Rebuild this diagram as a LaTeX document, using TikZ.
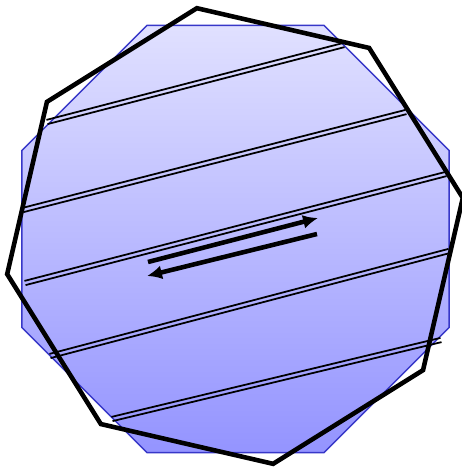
\documentclass[tikz,border=0pt]{standalone}
\usetikzlibrary{arrows.meta}
\definecolor{rim}{RGB}{55,55,200}
\begin{document}
\begin{tikzpicture}[x=0.02cm, y=-0.02cm,
  base/.style={draw=rim, line width=0.8pt, top color=blue!12, bottom color=blue!42},
  turned/.style={draw=black, line width=2.6pt},
  chord/.style={draw=black, line width=1pt},
  move/.style={draw=black, line width=2.6pt, -{Latex[length=8.5pt,width=8pt]}}]
\useasboundingbox (0,0) rectangle (462,467);
% fixed octagon
\path[base, shift={(235.5,239)}] (22.5:231.3)
  \foreach \a in {67.5,112.5,...,337.5} { -- (\a:231.3) } -- cycle;
% chords
\foreach \xa/\ya/\xb/\yb in {47/122/344/45, 23/210/406/112, 25/283/446/174,
    50/356/449/251, 112/419/441/340} {
  \draw[chord] ([shift={(-0.55,-2.1)}]\xa,\ya) -- ([shift={(-0.55,-2.1)}]\xb,\yb);
  \draw[chord] ([shift={(0.55,2.1)}]\xa,\ya) -- ([shift={(0.55,2.1)}]\xb,\yb);
}
% rotated octagon
\draw[turned, shift={(235,236)}] (-9.5:231)
  \foreach \a in {35.5,80.5,...,350.5} { -- (\a:231) } -- cycle;
% arrows
\draw[move] (148,262) -- (318,218);
\draw[move] (317,234) -- (147,276);
\end{tikzpicture}
\end{document}
